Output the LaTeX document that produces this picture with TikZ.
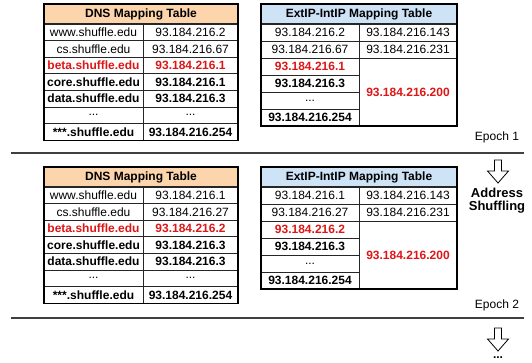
\documentclass[tikz,border=0pt]{standalone}
\usepackage{fontspec}
\setmainfont{Liberation Sans}
\definecolor{dnshead}{RGB}{252,213,172}
\definecolor{iphead}{RGB}{207,227,247}
\definecolor{hotred}{RGB}{222,22,22}
\newcommand\ellip{...}

\begin{document}
\begin{tikzpicture}[x=1pt, y=-1pt,
  every node/.style = {inner sep=0pt, outer sep=0pt, font=\fontsize{12}{14}\selectfont},
  cell/.style = {draw=black!85, line width=0.7pt, minimum height=#1, anchor=north west},
  head/.style = {cell=20, line width=1pt, font=\fontsize{12}{14}\selectfont\bfseries},
  plain/.style = {},
  strong/.style = {font=\fontsize{12}{14}\selectfont\bfseries},
  hot/.style = {strong, text=hotred},
  frame/.style = {draw=black, line width=1.2pt},
  sepline/.style = {draw=black!75, line width=1.2pt},
  hollow/.style = {draw=black, line width=0.8pt, fill=white, line join=miter},
  ]
  \useasboundingbox (0,0) rectangle (532,363);

  % epoch 1
  \node (dh1) [head, minimum width=194, fill=dnshead] at (44,4) {DNS Mapping Table};
  \foreach \host/\addr/\kind [count=\i from 0] in {www.shuffle.edu/93.184.216.2/plain,
      cs.shuffle.edu/93.184.216.67/plain, beta.shuffle.edu/93.184.216.1/hot,
      core.shuffle.edu/93.184.216.1/strong, data.shuffle.edu/93.184.216.3/strong,
      \ellip/\ellip/plain, ***.shuffle.edu/93.184.216.254/strong} {
    \node (dn1\i) [cell=16.6, minimum width=99, \kind] at (44,24+16.6*\i) {\host};
    \node (da1\i) [cell=16.6, minimum width=95, \kind] at (dn1\i.north east) {\addr};
  }
  \draw[frame] (dh1.north west) rectangle (da16.south east);

  \node (xh1) [head, minimum width=196, fill=iphead] at (261,4) {ExtIP-IntIP Mapping Table};
  \foreach \ext/\kind [count=\i from 0] in {93.184.216.2/plain, 93.184.216.67/plain,
      93.184.216.1/hot, 93.184.216.3/strong, \ellip/plain, 93.184.216.254/strong} {
    \node (ex1\i) [cell=17, minimum width=98, \kind] at (261,24+17*\i) {\ext};
  }
  \node (in10) [cell=17, minimum width=98] at (ex10.north east) {93.184.216.143};
  \node (in11) [cell=17, minimum width=98] at (ex11.north east) {93.184.216.231};
  \node (in12) [cell=68, minimum width=98, hot] at (ex12.north east) {93.184.216.200};
  \draw[frame] (xh1.north west) rectangle (in12.south east);

  \node (ep1) [anchor=east] at (519,137) {Epoch 1};
  \draw[sepline] (11,153) -- (524,153);

  % shuffling step
  \draw[hollow] (494.5,160) -- ++(7,0) -- ++(0,11) -- ++(7,0) -- ++(-10.5,12)
    -- ++(-10.5,-12) -- ++(7,0) -- cycle;
  \node (shuf) [align=center, font=\fontsize{13}{13}\selectfont\bfseries] at (497,201)
    {Address\\Shuffling};

  % epoch 2
  \node (dh2) [head, minimum width=194, fill=dnshead] at (44,167) {DNS Mapping Table};
  \foreach \host/\addr/\kind [count=\i from 0] in {www.shuffle.edu/93.184.216.1/plain,
      cs.shuffle.edu/93.184.216.27/plain, beta.shuffle.edu/93.184.216.2/hot,
      core.shuffle.edu/93.184.216.3/strong, data.shuffle.edu/93.184.216.3/strong,
      \ellip/\ellip/plain, ***.shuffle.edu/93.184.216.254/strong} {
    \node (dn2\i) [cell=16.6, minimum width=99, \kind] at (44,187+16.6*\i) {\host};
    \node (da2\i) [cell=16.6, minimum width=95, \kind] at (dn2\i.north east) {\addr};
  }
  \draw[frame] (dh2.north west) rectangle (da26.south east);

  \node (xh2) [head, minimum width=196, fill=iphead] at (261,167) {ExtIP-IntIP Mapping Table};
  \foreach \ext/\kind [count=\i from 0] in {93.184.216.1/plain, 93.184.216.27/plain,
      93.184.216.2/hot, 93.184.216.3/strong, \ellip/plain, 93.184.216.254/strong} {
    \node (ex2\i) [cell=17, minimum width=98, \kind] at (261,187+17*\i) {\ext};
  }
  \node (in20) [cell=17, minimum width=98] at (ex20.north east) {93.184.216.143};
  \node (in21) [cell=17, minimum width=98] at (ex21.north east) {93.184.216.231};
  \node (in22) [cell=68, minimum width=98, hot] at (ex22.north east) {93.184.216.200};
  \draw[frame] (xh2.north west) rectangle (in22.south east);

  \node (ep2) [anchor=east] at (519,305) {Epoch 2};
  \draw[sepline] (11,318) -- (524,318);

  % next step
  \draw[hollow] (494.5,328) -- ++(7,0) -- ++(0,11) -- ++(7,0) -- ++(-10.5,12)
    -- ++(-10.5,-12) -- ++(7,0) -- cycle;
  \node (more) [font=\fontsize{12}{12}\selectfont\bfseries] at (498,358) {...};
\end{tikzpicture}
\end{document}
